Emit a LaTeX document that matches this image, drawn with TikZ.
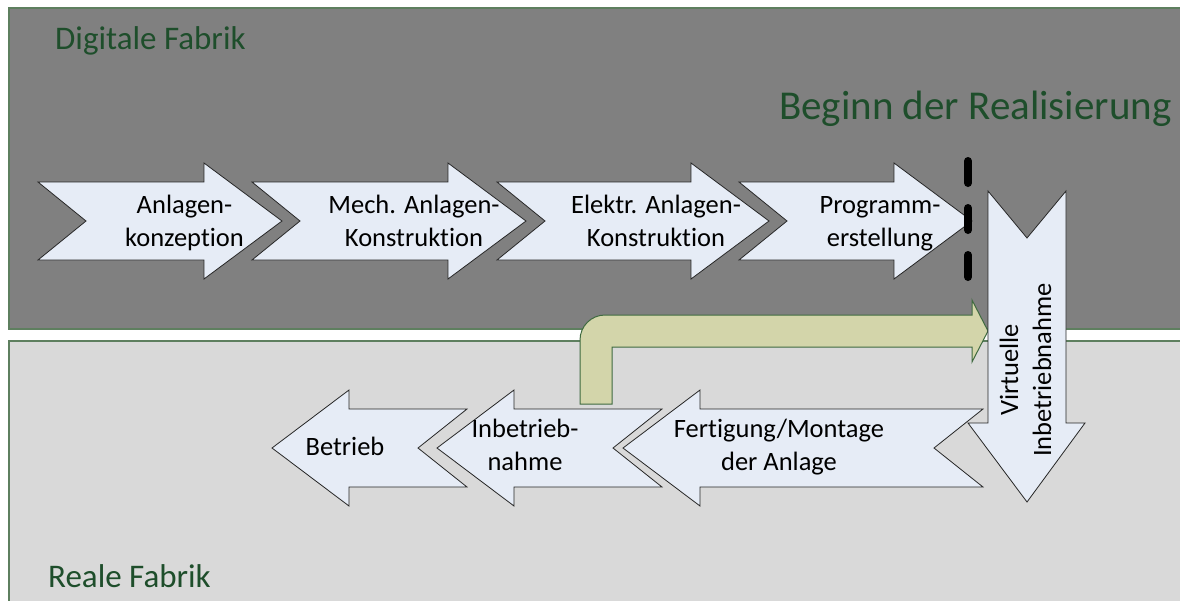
\documentclass[tikz,border=0pt]{standalone}
\usepackage{fontspec}
\setmainfont{Carlito}[Ligatures=NoCommon]
\definecolor{panelline}{HTML}{5E7F5F}
\definecolor{digitalfill}{HTML}{808080}
\definecolor{realfill}{HTML}{D9D9D9}
\definecolor{titlegreen}{HTML}{1E4E2B}
\definecolor{stepfill}{HTML}{E6ECF6}
\definecolor{olivefill}{HTML}{D3D5AA}
\definecolor{oliveline}{HTML}{3F6A40}
\tikzset{
  panel/.style={draw=panelline, line width=1.5pt},
  stepshape/.style={draw=black!85, line width=0.8pt, fill=stepfill},
  steptext/.style={align=center, inner sep=0pt,
    font=\fontsize{26.5}{33}\selectfont},
  titletext/.style={text=titlegreen, inner sep=0pt, anchor=base west},
  linkshape/.style={draw=oliveline, line width=1pt, fill=olivefill},
  cutline/.style={line width=8pt, line cap=round, dash pattern=on 22pt off 25pt}
}
% arrow pointing right: #1 tail x, #2 tip x, #3 centre y
\newcommand{\notchright}[3]{%
  \draw[stepshape] (#1,#3-39) -- (#2-78,#3-39) -- (#2-78,#3-58) -- (#2,#3)
    -- (#2-78,#3+58) -- (#2-78,#3+39) -- (#1,#3+39) -- (#1+48,#3) -- cycle;}
% arrow pointing left: #1 tip x, #2 tail x, #3 centre y
\newcommand{\notchleft}[3]{%
  \draw[stepshape] (#2,#3-39) -- (#1+77,#3-39) -- (#1+77,#3-58) -- (#1,#3)
    -- (#1+77,#3+58) -- (#1+77,#3+39) -- (#2,#3+39) -- (#2-49,#3) -- cycle;}
\begin{document}
\begin{tikzpicture}[x=1pt,y=-1pt]
\useasboundingbox (0,0) rectangle (1180,600);

% the two areas
\draw[panel, fill=digitalfill] (9,8) rectangle (1195,329);
\draw[panel, fill=realfill] (9,341) rectangle (1195,615);
\node[titletext, font=\fontsize{33}{40}\selectfont] (digital) at (55,49) {Digitale Fabrik};
\node[titletext, font=\fontsize{33}{40}\selectfont] (real) at (48,587) {Reale Fabrik};
\node[titletext, font=\fontsize{41}{49}\selectfont] (start) at (779,119) {Beginn der Realisierung};

% planning chain in the digital factory
\notchright{38}{282}{221}
\notchright{252}{526}{221}
\notchright{497}{769}{221}
\notchright{739}{972}{221}
\node[steptext] (konzept) at (184.5,223) {\strut Anlagen-\\\strut konzeption};
\node[steptext] (mech) at (414,223) {\strut Mech. Anlagen-\\\strut Konstruktion};
\node[steptext] (elektr) at (656,223) {\strut Elektr. Anlagen-\\\strut Konstruktion};
\node[steptext] (prog) at (880,223) {\strut Programm-\\\strut erstellung};

% start of realisation
\coordinate (cutTop) at (968,161);
\coordinate (cutBot) at (968,277);
\draw[cutline] (cutTop) -- (cutBot);

% chain in the real factory
\notchleft{272}{467}{448}
\notchleft{437}{662}{448}
\notchleft{623}{983}{448}
\node[steptext] (betrieb) at (345,448.5) {\strut Betrieb};
\node[steptext] (ibn) at (525,447) {\strut Inbetrieb-\\\strut nahme};
\node[steptext] (fertig) at (779,447) {\strut Fertigung/Montage\\\strut der Anlage};

% feedback from commissioning to virtual commissioning
\draw[linkshape] (580,404) -- (580,340) .. controls (580,326.2) and (591.2,315) .. (605,315)
  -- (972,315) -- (972,300) -- (988,331) -- (972,362) -- (972,347)
  -- (612,347) -- (612,404) -- cycle;

% virtual commissioning
\draw[stepshape] (988,191) -- (1027,238) -- (1066,191) -- (1066,423) -- (1085,423)
  -- (1027,502) -- (968,423) -- (988,423) -- cycle;
\node[steptext, rotate=90] (vibn) at (1028,370) {\strut Virtuelle\\\strut Inbetriebnahme};
\end{tikzpicture}
\end{document}
